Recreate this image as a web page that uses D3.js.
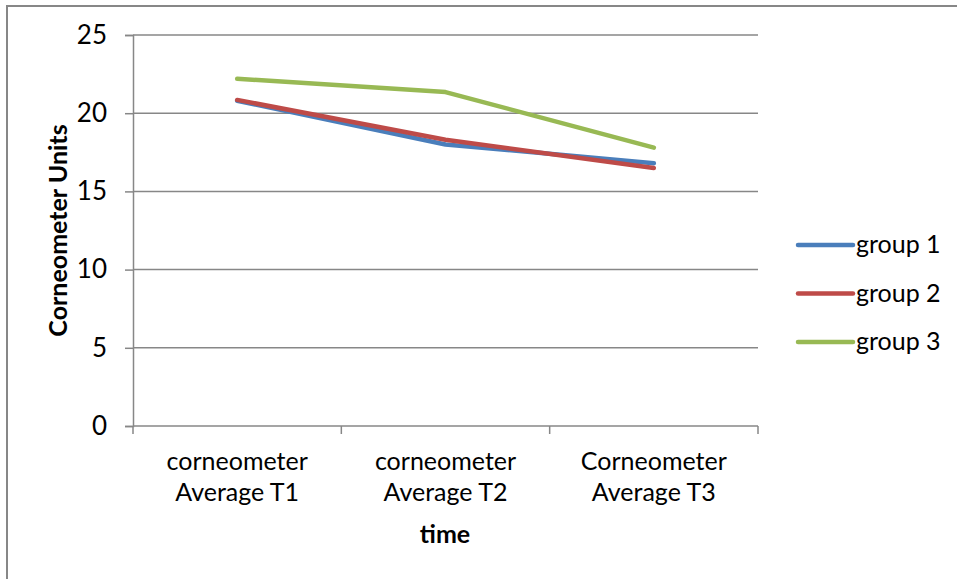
<!DOCTYPE html>
<html>
<head>
<meta charset="utf-8">
<script src="https://cdn.jsdelivr.net/npm/d3@7"></script>
<style>
  html, body { margin: 0; padding: 0; background: #fff; }
  svg { display: block; }
  text { font-family: Lato, "Open Sans", sans-serif; fill: #000; }
</style>
</head>
<body>
<svg id="chart" width="957" height="579"></svg>
<script>
// Category labels (two lines each) along the time axis
const categories = ["corneometer|Average T1", "corneometer|Average T2", "Corneometer|Average T3"];
const group1 = [20.8, 18.0, 16.8];
const group2 = [20.85, 18.3, 16.5];
const group3 = [22.2, 21.35, 17.8];
const seriesNames = ["group 1", "group 2", "group 3"];
const seriesColors = ["#4a7ebb", "#be4b48", "#98b954"];
const yTicks = [0, 5, 10, 15, 20, 25];

const series = [group1, group2, group3].map((values, i) => ({
  name: seriesNames[i], color: seriesColors[i], values
}));

const svg = d3.select("#chart");
const W = 957, H = 579;
const plot = { left: 133, right: 758, top: 35, bottom: 426 };
const FS = 25;

// Outer chart frame
svg.append("rect")
  .attr("x", 7).attr("y", 6)
  .attr("width", W).attr("height", H)
  .attr("fill", "#fff").attr("stroke", "#878787").attr("stroke-width", 2);

const x = d3.scaleBand().domain(categories).range([plot.left, plot.right]).padding(0);
const y = d3.scaleLinear().domain([0, 25]).range([plot.bottom, plot.top]);

// Horizontal gridlines
svg.append("g")
  .selectAll("line").data(yTicks.filter(t => t > 0)).join("line")
  .attr("x1", plot.left).attr("x2", plot.right)
  .attr("y1", d => y(d)).attr("y2", d => y(d))
  .attr("stroke", "#878787").attr("stroke-width", 1.5);

// Y axis
const yAxis = svg.append("g")
  .attr("transform", `translate(${plot.left},0)`)
  .call(d3.axisLeft(y).tickValues(yTicks).tickSize(8).tickPadding(18).tickFormat(d3.format("d")));
yAxis.select(".domain").attr("stroke", "#878787").attr("stroke-width", 1.5);
yAxis.selectAll(".tick line").attr("stroke", "#878787").attr("stroke-width", 1.5);
yAxis.selectAll(".tick text").attr("font-size", 26).attr("font-family", "Lato, sans-serif").attr("fill", "#000");

// X axis with ticks at category boundaries
const xAxisG = svg.append("g");
xAxisG.append("line")
  .attr("x1", plot.left).attr("x2", plot.right)
  .attr("y1", plot.bottom).attr("y2", plot.bottom)
  .attr("stroke", "#878787").attr("stroke-width", 1.5);
const boundaries = categories.map(c => x(c)).concat([x(categories[categories.length - 1]) + x.bandwidth()]);
xAxisG.selectAll("line.tk").data(boundaries).join("line").attr("class", "tk")
  .attr("x1", d => d).attr("x2", d => d)
  .attr("y1", plot.bottom).attr("y2", plot.bottom + 8)
  .attr("stroke", "#878787").attr("stroke-width", 1.5);

const catLabels = xAxisG.selectAll("text.cat").data(categories).join("text").attr("class", "cat")
  .attr("text-anchor", "middle")
  .attr("font-size", FS);
catLabels.each(function(d) {
  const parts = d.split("|");
  const t = d3.select(this);
  parts.forEach((p, i) => {
    t.append("tspan")
      .attr("x", x(d) + x.bandwidth() / 2)
      .attr("y", 470 + i * 31)
      .text(p);
  });
});

// Axis titles
svg.append("text")
  .attr("x", 445).attr("y", 543)
  .attr("text-anchor", "middle")
  .attr("font-size", FS).attr("font-weight", "bold")
  .text("time");

svg.append("text")
  .attr("transform", `translate(67,${(plot.top + plot.bottom) / 2}) rotate(-90)`)
  .attr("text-anchor", "middle")
  .attr("font-size", FS).attr("font-weight", "bold")
  .text("Corneometer Units");

// Series lines
const line = d3.line()
  .x((d, i) => x(categories[i]) + x.bandwidth() / 2)
  .y(d => y(d));

svg.append("g")
  .selectAll("path").data(series).join("path")
  .attr("d", d => line(d.values))
  .attr("fill", "none")
  .attr("stroke", d => d.color)
  .attr("stroke-width", 4.5)
  .attr("stroke-linecap", "round")
  .attr("stroke-linejoin", "round");

// Legend
const legend = svg.append("g").selectAll("g").data(series).join("g")
  .attr("transform", (d, i) => `translate(798,${245 + i * 48.5})`);
legend.append("line")
  .attr("x1", 0).attr("x2", 55).attr("y1", 0).attr("y2", 0)
  .attr("stroke", d => d.color).attr("stroke-width", 4.5).attr("stroke-linecap", "round");
legend.append("text")
  .attr("x", 58).attr("y", 8)
  .attr("font-size", FS)
  .text(d => d.name);
</script>
</body>
</html>
